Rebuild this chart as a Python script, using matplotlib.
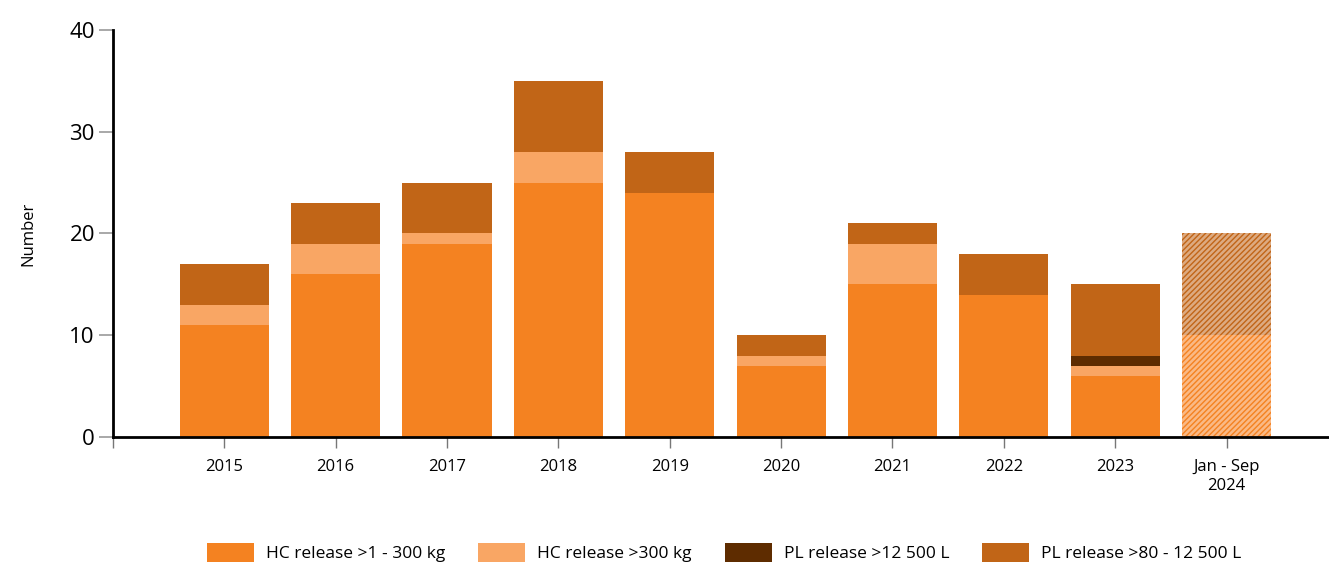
import numpy as np
import matplotlib.pyplot as plt
from matplotlib.patches import Patch

years = ['2015', '2016', '2017', '2018', '2019', '2020', '2021', '2022', '2023', 'Jan - Sep\n2024']
hc_small = [11, 16, 19, 25, 24, 7, 15, 14, 6, 10]
hc_large = [2, 3, 1, 3, 0, 1, 4, 0, 1, 0]
pl_large = [0, 0, 0, 0, 0, 0, 0, 0, 1, 0]
pl_small = [4, 4, 5, 7, 4, 2, 2, 4, 7, 10]

labels = ['HC release >1 - 300 kg', 'HC release >300 kg',
          'PL release >12 500 L', 'PL release >80 - 12 500 L']
colors = ['#F48221', '#F9A664', '#5E2C00', '#C16517']
light = ['#FAB985', '#FBCBA2', '#9E7A5A', '#DDAA80']

plt.rcParams['font.family'] = ['Open Sans', 'DejaVu Sans']
plt.rcParams['hatch.linewidth'] = 1.0

fig = plt.figure(figsize=(13.29, 5.65), dpi=100)
ax = fig.add_axes([0.085, 0.2265, 0.915, 0.7205])

series = [hc_small, hc_large, pl_large, pl_small]
x = np.arange(len(years))
n_full = len(years) - 1  # last bar is partial year, drawn hatched
bottom = np.zeros(len(years))
for vals, c, lc in zip(series, colors, light):
    vals = np.array(vals, dtype=float)
    ax.bar(x[:n_full], vals[:n_full], 0.8, bottom=bottom[:n_full],
           color=c, linewidth=0)
    if vals[n_full] > 0:
        ax.bar(x[n_full], vals[n_full], 0.8, bottom=bottom[n_full],
               facecolor=lc, edgecolor=c, hatch='//////', linewidth=0)
    bottom += vals

ax.set_xlim(-1, 9.92)
ax.set_ylim(0, 40)
ax.set_yticks([0, 10, 20, 30, 40])
ax.set_xticks(np.arange(-1, 10))
ax.set_xticklabels([''] + years, fontsize=12)
ax.tick_params(axis='y', labelsize=16, length=10, color='#999999', width=1.2, pad=3)
ax.tick_params(axis='x', length=8, color='#777777', width=1, pad=8)
ax.set_ylabel('Number', fontsize=12, labelpad=24)

for s in ['top', 'right']:
    ax.spines[s].set_visible(False)
for s in ['left', 'bottom']:
    ax.spines[s].set_linewidth(2)
    ax.spines[s].set_color('black')

handles = [Patch(facecolor=c, label=l) for c, l in zip(colors, labels)]
fig.legend(handles=handles, loc='center', bbox_to_anchor=(0.545, 0.022),
           ncol=4, frameon=False, fontsize=12.5, handlelength=2.7, handleheight=1.3,
           columnspacing=1.9, handletextpad=0.7)

fig.savefig('out.png', dpi=100)
